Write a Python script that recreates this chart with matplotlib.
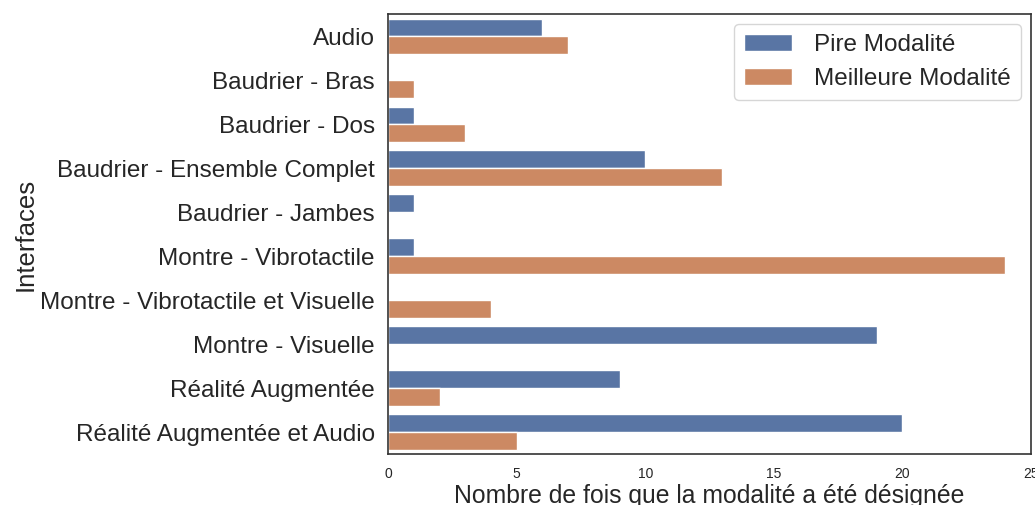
import matplotlib
matplotlib.use("Agg")
import matplotlib.pyplot as plt
import pandas as pd
import seaborn as sns

interfaces = [
    "Audio",
    "Baudrier - Bras",
    "Baudrier - Dos",
    "Baudrier - Ensemble Complet",
    "Baudrier - Jambes",
    "Montre - Vibrotactile",
    "Montre - Vibrotactile et Visuelle",
    "Montre - Visuelle",
    "Réalité Augmentée",
    "Réalité Augmentée et Audio",
]
pire = [6, 0, 1, 10, 1, 1, 0, 19, 9, 20]
meilleure = [7, 1, 3, 13, 0, 24, 4, 0, 2, 5]

df = pd.DataFrame({
    "Interfaces": interfaces * 2,
    "Nombre": pire + meilleure,
    "Type": ["Pire Modalité"] * len(interfaces) + ["Meilleure Modalité"] * len(interfaces),
})

sns.set_theme(style="white")
plt.rcParams["font.family"] = ["Liberation Sans", "DejaVu Sans"]

fig = plt.figure(figsize=(10.35, 5.05), dpi=100)
ax = fig.add_axes([0.375, 0.101, 0.621, 0.871])
sns.barplot(data=df, y="Interfaces", x="Nombre", hue="Type", orient="h", ax=ax)

for s in ax.spines.values():
    s.set_color("#333333")
    s.set_linewidth(1.2)

ax.set_xlim(0, 25)
ax.set_xticks([0, 5, 10, 15, 20, 25])
ax.tick_params(axis="x", labelsize=10)
ax.tick_params(axis="y", labelsize=17.5)
ax.set_xlabel("Nombre de fois que la modalité a été désignée", fontsize=17.8, labelpad=2)
ax.set_ylabel("Interfaces", fontsize=18.5, labelpad=2)
ax.legend(fontsize=17.5, loc="upper right", borderaxespad=0.42, handletextpad=0.9)

fig.savefig("out.png", dpi=100)
